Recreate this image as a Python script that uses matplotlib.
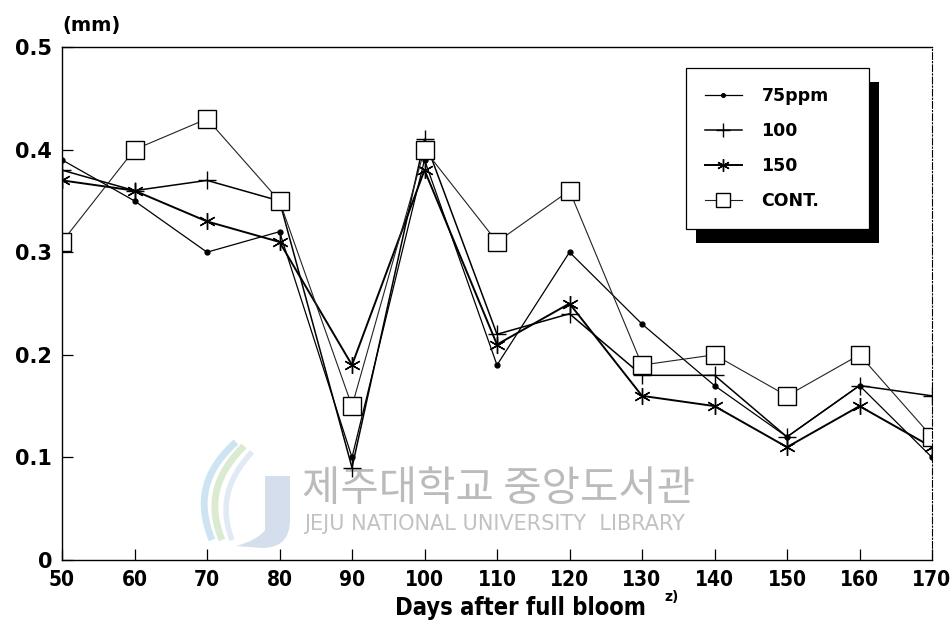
import matplotlib
matplotlib.use("Agg")
import matplotlib.pyplot as plt
from matplotlib.patches import Rectangle, PathPatch
from matplotlib.path import Path
from matplotlib.transforms import IdentityTransform, Affine2D

days = [50, 60, 70, 80, 90, 100, 110, 120, 130, 140, 150, 160, 170]
ppm75 = [0.39, 0.35, 0.30, 0.32, 0.10, 0.39, 0.19, 0.30, 0.23, 0.17, 0.12, 0.17, 0.10]
ppm100 = [0.38, 0.36, 0.37, 0.35, 0.09, 0.41, 0.22, 0.24, 0.18, 0.18, 0.12, 0.17, 0.16]
ppm150 = [0.37, 0.36, 0.33, 0.31, 0.19, 0.38, 0.21, 0.25, 0.16, 0.15, 0.11, 0.15, 0.11]
cont = [0.31, 0.40, 0.43, 0.35, 0.15, 0.40, 0.31, 0.36, 0.19, 0.20, 0.16, 0.20, 0.12]
labels = ["75ppm", "100", "150", "CONT."]
yticks = [0, 0.1, 0.2, 0.3, 0.4, 0.5]
ytick_labels = ["0", "0.1", "0.2", "0.3", "0.4", "0.5"]

W, H = 952, 639
fig = plt.figure(figsize=(W / 100, H / 100), dpi=100)
ax = fig.add_axes([62 / W, 1 - 560 / H, 870 / W, 513 / H])

# --- faint library watermark (logo + text), drawn in figure pixel space ---
pix = Affine2D().scale(1, -1).translate(0, H)  # top-left origin pixels -> display
def swoosh(pts, color, lw):
    codes = [Path.MOVETO] + [Path.CURVE4] * (len(pts) - 1)
    fig.add_artist(PathPatch(Path(pts, codes), transform=pix, facecolor="none",
                             edgecolor=color, lw=lw, alpha=0.55, zorder=-5))
swoosh([(236, 442), (205, 470), (196, 500), (212, 540)], "#a9cfe8", 5)
swoosh([(244, 446), (214, 476), (208, 505), (222, 540)], "#bfdcae", 5)
swoosh([(252, 452), (226, 480), (220, 508), (232, 540)], "#c9d9ec", 4)
jpath = Path([(265, 476), (290, 476), (290, 520), (290, 548), (262, 548), (236, 546),
              (258, 540), (265, 530), (265, 505), (265, 476)],
             [Path.MOVETO, Path.LINETO, Path.LINETO, Path.CURVE3, Path.CURVE3, Path.LINETO,
              Path.CURVE3, Path.CURVE3, Path.LINETO, Path.CLOSEPOLY])
fig.add_artist(PathPatch(jpath, transform=pix, facecolor="#b9c9e2", edgecolor="none",
                         alpha=0.6, zorder=-5))
fig.text(302 / W, 1 - 489 / H, "제주대학교 중앙도서관", family=["Noto Sans CJK KR"], fontsize=30,
         color="#b0b0b0", ha="left", va="center", alpha=0.85, zorder=-4)
fig.text(304 / W, 1 - 524 / H, "JEJU NATIONAL UNIVERSITY  LIBRARY", family="DejaVu Sans",
         fontsize=15, color="#c2c2c2", ha="left", va="center", zorder=-4)
ax.patch.set_alpha(0)

asterisk = (6, 2, 0)
ax.plot(days, ppm75, color="black", lw=0.9, marker="o", ms=3.5, label=labels[0])
ax.plot(days, ppm100, color="black", lw=1.1, marker="+", ms=13, mew=1.0, label=labels[1])
ax.plot(days, ppm150, color="black", lw=1.4, marker=asterisk, ms=12, mew=1.0, label=labels[2])
ax.plot(days, cont, color="#222222", lw=0.8, marker="s", ms=13, mfc="white",
        mec="black", mew=1.0, label=labels[3])

ax.set_xlim(50, 170)
ax.set_ylim(0, 0.5)
ax.set_xticks(days)
ax.set_xticklabels([str(d) for d in days], family="DejaVu Sans", fontstretch="condensed",
                   fontsize=15, fontweight="bold")
ax.set_yticks(yticks)
ax.set_yticklabels(ytick_labels, family="DejaVu Sans", fontsize=15, fontweight="bold")
ax.tick_params(axis="both", direction="in", length=8, width=0.9, color="black")
ax.tick_params(axis="x", pad=7)
ax.tick_params(axis="y", pad=7)
for s in ax.spines.values():
    s.set_linewidth(1.0)
ax.spines["right"].set_linestyle((0, (6, 2, 1, 2)))
ax.spines["right"].set_linewidth(0.8)

ax.set_xlabel("Days after full bloom", family="DejaVu Sans",
              fontstretch="condensed", fontweight="bold", fontsize=17)
ax.xaxis.set_label_coords((520 - 62) / 870, -(608 - 560) / 513)
ax.xaxis.label.set_va("center")
fig.text(664 / W, 1 - 597 / H, "z)", family="DejaVu Sans", fontsize=10,
         fontweight="bold", ha="left", va="center")
fig.text(62 / W, 1 - 25 / H, "(mm)", family="DejaVu Sans", fontsize=14,
         fontweight="bold", ha="left", va="center")

leg = ax.legend(loc="upper left", bbox_to_anchor=(686 / W, 1 - 238 / H, 183 / W, 170 / H),
                bbox_transform=fig.transFigure, mode="expand", borderaxespad=0,
                fancybox=False, edgecolor="black", framealpha=1, handlelength=2.1,
                labelspacing=0.97, borderpad=1.1, handletextpad=1.15, markerscale=0.75,
                prop={"family": "DejaVu Sans", "weight": "bold", "size": 12.5})
leg.get_frame().set_linewidth(0.9)
leg.set_zorder(5)

fig.canvas.draw()
bb = leg.get_window_extent()
shadow = Rectangle((bb.x0 + 10, bb.y0 - 14), bb.width, bb.height, transform=IdentityTransform(),
                   facecolor="black", edgecolor="none", zorder=4)
ax.add_artist(shadow)

fig.savefig("out.png", dpi=100)
